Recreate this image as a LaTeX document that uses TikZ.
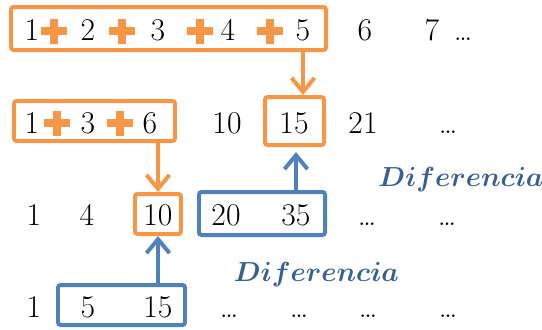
\documentclass[tikz,border=0pt]{standalone}
\usepackage{tikz}
\pgfdeclarelayer{background}
\pgfsetlayers{background,main}
\usetikzlibrary{arrows.meta}
\usepackage{bm}
\usepackage{amsmath}
\definecolor{seqorange}{HTML}{F79646}
\definecolor{seqblue}{HTML}{4F81BD}
\definecolor{diffblue}{HTML}{376092}
\tikzset{
  num/.style={inner sep=0,anchor=base,font=\fontsize{18}{22}\selectfont},
  plus/.style={minimum width=0.54cm,minimum height=0.5cm,inner sep=0,
    path picture={\draw[seqorange,line width=0.17cm]
      (path picture bounding box.west) -- (path picture bounding box.east)
      (path picture bounding box.north) -- (path picture bounding box.south);}},
  seqbox/.style={line width=0.08cm,rounded corners=1.5pt,inner sep=0},
  link/.style={line width=0.08cm,-{Straight Barb[length=0.28cm,width=0.46cm]}},
  diff/.style={text=diffblue,inner sep=0,font=\fontsize{15.5}{18}\selectfont}
}
\newcommand{\Num}[3]% pos, name, text
{\node[num] (#2) at (#1) {#3};}
\newcommand{\Plus}[2]% pos, name
{\node[plus] (#2) at (#1) {};}
\newcommand{\SeqBox}[5]% pos, name, width, height, colour
{\node[seqbox,draw=#5,minimum width=#3*0.02cm,minimum height=#4*0.02cm] (#2) at (#1) {};}
\newcommand{\Arrow}[3]%
{ \begin{pgfonlayer}{background}
    \draw[link,#3] (#1) -- (#2);
  \end{pgfonlayer}}
\newcommand{\DiffText}{\scalebox{1.09}{$\bm{Diferencia}$}}

\begin{document}
\begin{tikzpicture}[x=0.02cm,y=-0.02cm]
        \useasboundingbox (0,0) rectangle (542,329);
        % first row
        \Num{32,40}{a1}{1}
        \Plus{54,31}{pa1}
        \Num{88,40}{a2}{2}
        \Plus{122,31}{pa2}
        \Num{158,40}{a3}{3}
        \Plus{200,31}{pa3}
        \Num{228,40}{a4}{4}
        \Plus{270,31}{pa4}
        \Num{303,40}{a5}{5}
        \Num{365,40}{a6}{6}
        \Num{432,40}{a7}{7}
        \Num{463,40}{a8}{\ldots}
        % second row
        \Num{32,133}{b1}{1}
        \Plus{57,123}{pb1}
        \Num{88,133}{b3}{3}
        \Plus{120,123}{pb2}
        \Num{150,133}{b6}{6}
        \Num{227,133}{b10}{10}
        \Num{294,133}{b15}{15}
        \Num{363,133}{b21}{21}
        \Num{448,133}{b8}{\ldots}
        % third row
        \Num{34,225}{c1}{1}
        \Num{87,225}{c4}{4}
        \Num{158,225}{c10}{10}
        \Num{226,225}{c20}{20}
        \Num{296,225}{c35}{35}
        \Num{367,225}{c8}{\ldots}
        \Num{447,225}{c9}{\ldots}
        % fourth row
        \Num{34,317}{d1}{1}
        \Num{88,317}{d5}{5}
        \Num{158,317}{d15}{15}
        \Num{229,317}{d6}{\ldots}
        \Num{299,317}{d7}{\ldots}
        \Num{368,317}{d8}{\ldots}
        \Num{448,317}{d9}{\ldots}
        % boxes
        \SeqBox{168.5,28.5}{box1}{315}{43}{seqorange}
        \SeqBox{94.5,121}{box2}{161}{40}{seqorange}
        \SeqBox{294.5,121}{box15}{59}{48}{seqorange}
        \SeqBox{158,214}{box10}{46}{40}{seqorange}
        \SeqBox{262,213.5}{box2035}{126}{43}{seqblue}
        \SeqBox{121.5,305}{boxb}{127}{40}{seqblue}
        \node[diff] (diffA) at (461,180) {\DiffText};
        \node[diff] (diffB) at (316.5,275) {\DiffText};
        \Arrow{box1.south -| a5}{box15.north -| a5}{seqorange}
        \Arrow{box2.south -| box10}{box10.north}{seqorange}
        \Arrow{box2035.north -| c35}{box15.south -| c35}{seqblue,shorten >=0.1cm}
        \Arrow{boxb.north -| box10}{box10.south}{seqblue}
      \end{tikzpicture}
\end{document}
